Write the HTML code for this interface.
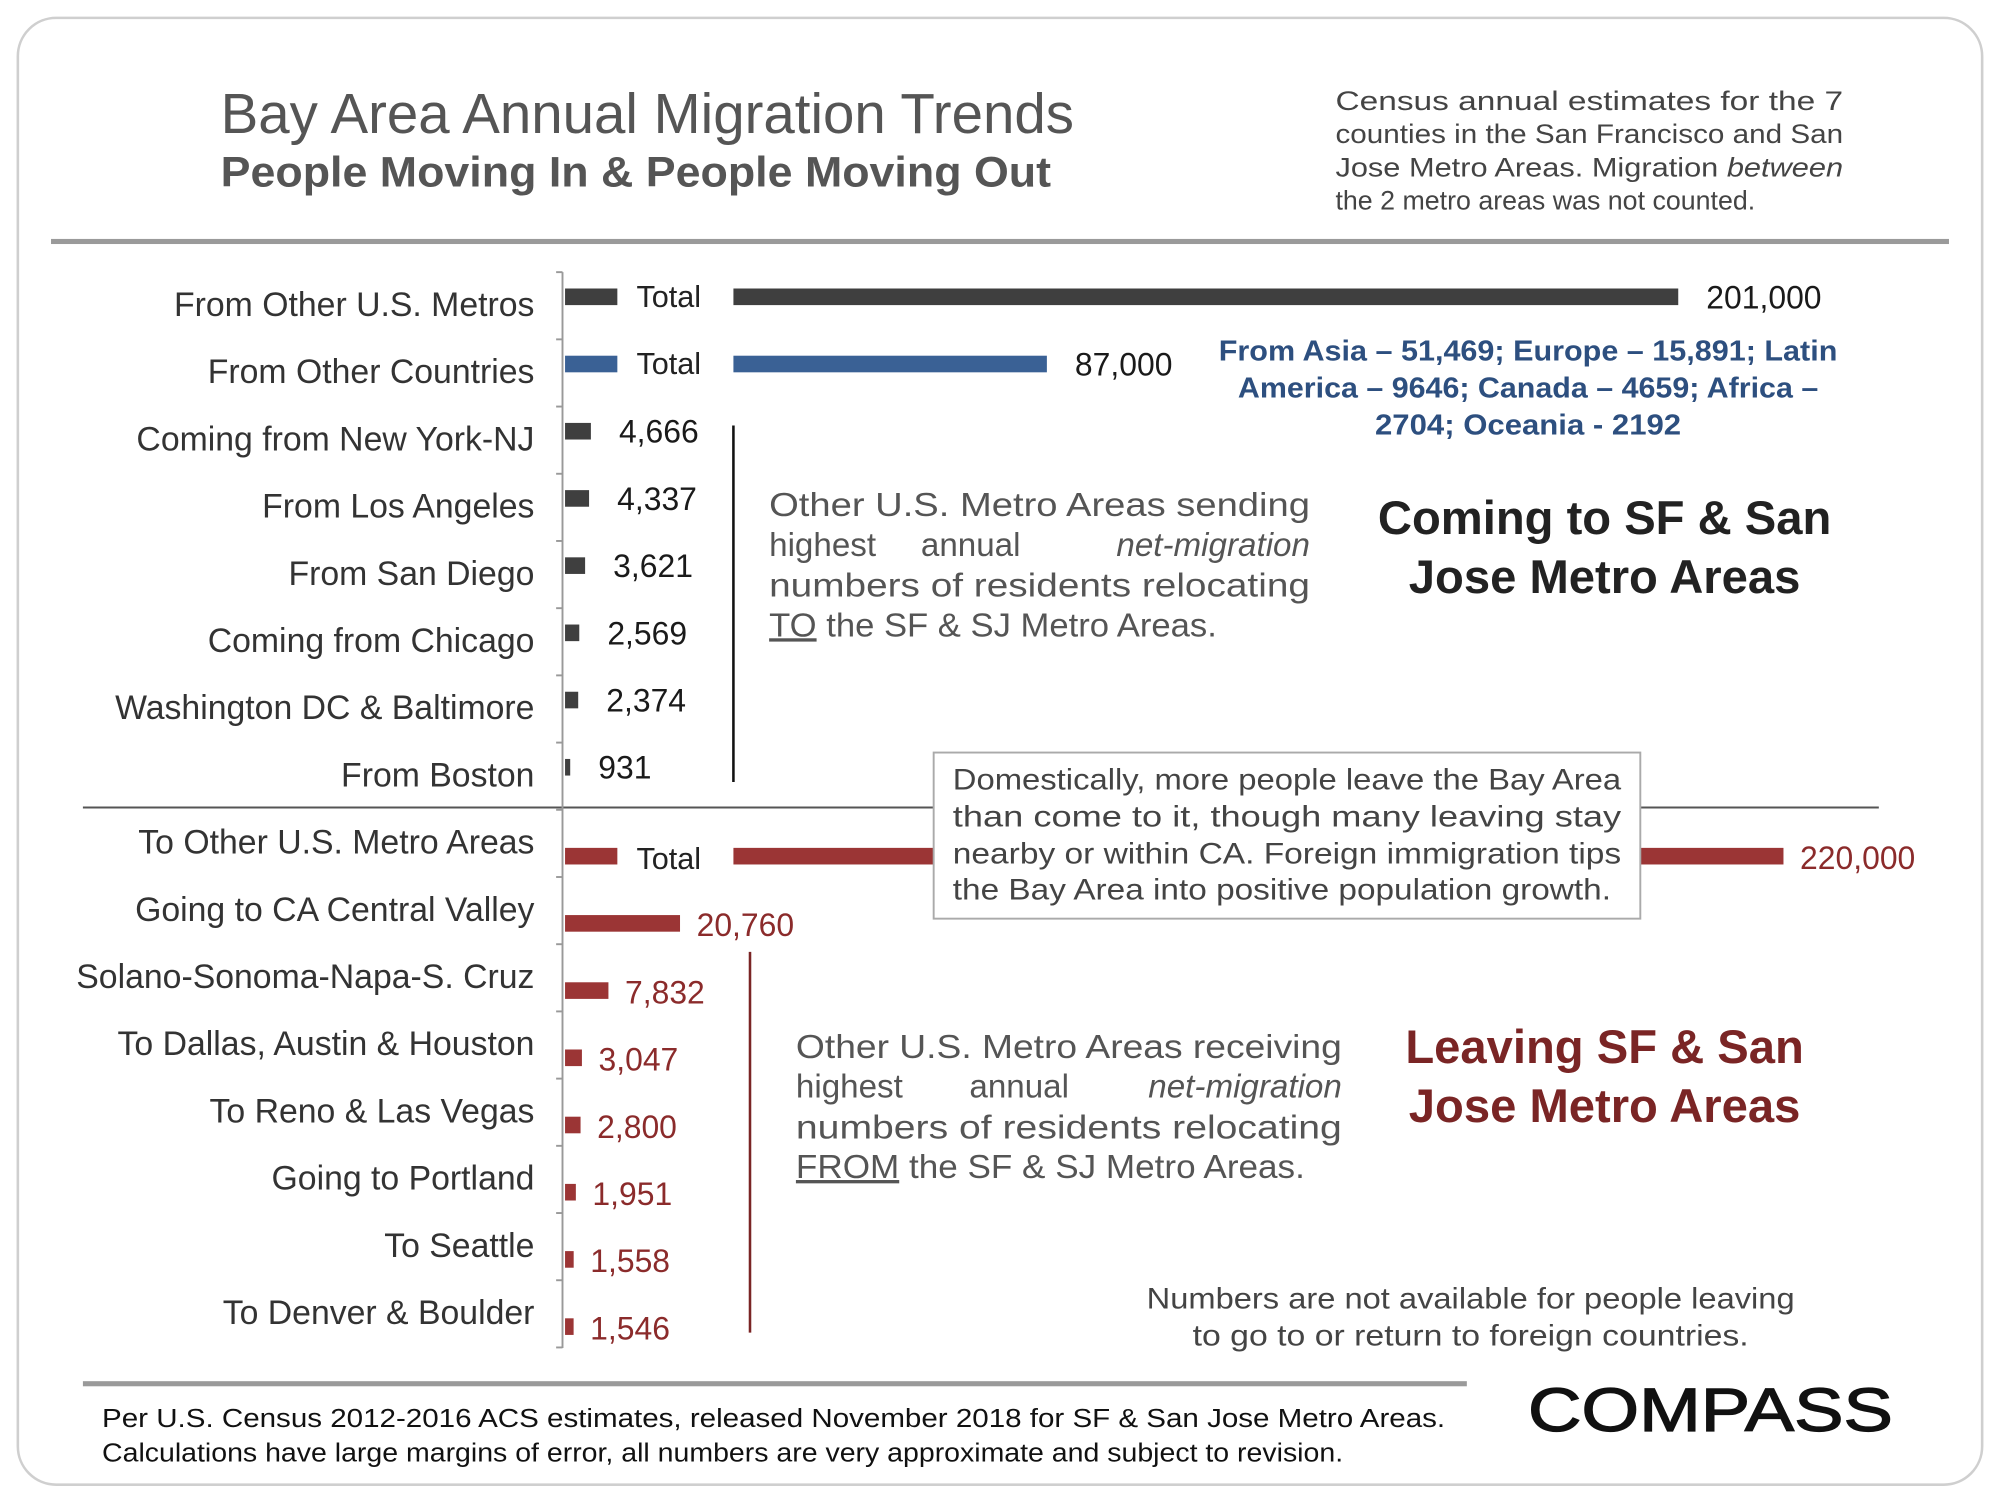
<!DOCTYPE html>
<html><head><meta charset="utf-8"><style>
html,body{margin:0;padding:0;background:#fff;}
svg{display:block;font-family:"Liberation Sans",sans-serif;}
</style></head><body>
<svg id="chart" width="2000" height="1500" viewBox="0 0 1568 1174" preserveAspectRatio="none" xmlns="http://www.w3.org/2000/svg">
<rect x="14" y="14" width="1540" height="1148" rx="30" fill="#fff" stroke="#cfcfcf" stroke-width="2"/>
<text x="173" y="104" font-size="44" fill="#555" textLength="669" lengthAdjust="spacingAndGlyphs">Bay Area Annual Migration Trends</text>
<text x="173" y="146" font-size="33" font-weight="bold" fill="#555" textLength="651" lengthAdjust="spacingAndGlyphs">People Moving In &amp; People Moving Out</text>
<g font-size="21" fill="#444">
<text x="1047" y="86" textLength="398" lengthAdjust="spacingAndGlyphs">Census annual estimates for the 7</text>
<text x="1047" y="112" textLength="398" lengthAdjust="spacingAndGlyphs">counties in the San Francisco and San</text>
<text x="1047" y="138" textLength="398" lengthAdjust="spacingAndGlyphs">Jose Metro Areas. Migration <tspan font-style="italic">between</tspan></text>
<text x="1047" y="164">the 2 metro areas was not counted.</text>
</g>
<rect x="40" y="187" width="1488" height="4" fill="#9a9a9a"/>
<line x1="65" y1="632" x2="1473" y2="632" stroke="#555" stroke-width="1.5"/>
<line x1="441" y1="213" x2="441" y2="1055" stroke="#999" stroke-width="1.5"/>
<g id="ticks"></g>
<g id="labels" font-size="26.5" fill="#333" text-anchor="end"></g>
<g id="bars"></g>
<g id="values" font-size="25"></g>
<line x1="575" y1="333" x2="575" y2="612" stroke="#111" stroke-width="2"/>
<line x1="588" y1="745" x2="588" y2="1043" stroke="#7a2525" stroke-width="2"/>
<g font-size="26" fill="#555">
<text x="603" y="404" textLength="424" lengthAdjust="spacingAndGlyphs">Other U.S. Metro Areas sending</text>
<text x="603" y="435">highest</text>
<text x="722" y="435">annual</text>
<text x="1027" y="435" text-anchor="end" font-style="italic">net-migration</text>
<text x="603" y="467" textLength="424" lengthAdjust="spacingAndGlyphs">numbers of residents relocating</text>
<text x="603" y="498" textLength="351" lengthAdjust="spacingAndGlyphs"><tspan text-decoration="underline">TO</tspan> the SF &amp; SJ Metro Areas.</text>
</g>
<g font-size="37" font-weight="bold" fill="#222" text-anchor="middle">
<text x="1258" y="418">Coming to SF &amp; San</text>
<text x="1258" y="464">Jose Metro Areas</text>
</g>
<g font-size="22.5" font-weight="bold" fill="#2d4f7f" text-anchor="middle">
<text x="1198" y="282" textLength="485" lengthAdjust="spacingAndGlyphs">From Asia – 51,469; Europe – 15,891; Latin</text>
<text x="1198" y="311" textLength="455" lengthAdjust="spacingAndGlyphs">America – 9646; Canada – 4659; Africa –</text>
<text x="1198" y="340" textLength="240" lengthAdjust="spacingAndGlyphs">2704; Oceania - 2192</text>
</g>
<rect x="732" y="589" width="554" height="130" fill="#fff" stroke="#aaa" stroke-width="1.5"/>
<g font-size="23" fill="#444">
<text x="747" y="618" textLength="524" lengthAdjust="spacingAndGlyphs">Domestically, more people leave the Bay Area</text>
<text x="747" y="647" textLength="524" lengthAdjust="spacingAndGlyphs">than come to it, though many leaving stay</text>
<text x="747" y="676" textLength="524" lengthAdjust="spacingAndGlyphs">nearby or within CA. Foreign immigration tips</text>
<text x="747" y="704" textLength="516" lengthAdjust="spacingAndGlyphs">the Bay Area into positive population growth.</text>
</g>
<g font-size="26" fill="#555">
<text x="624" y="828" textLength="428" lengthAdjust="spacingAndGlyphs">Other U.S. Metro Areas receiving</text>
<text x="624" y="859">highest</text>
<text x="760" y="859">annual</text>
<text x="1052" y="859" text-anchor="end" font-style="italic">net-migration</text>
<text x="624" y="891" textLength="428" lengthAdjust="spacingAndGlyphs">numbers of residents relocating</text>
<text x="624" y="922" textLength="399" lengthAdjust="spacingAndGlyphs"><tspan text-decoration="underline">FROM</tspan> the  SF &amp; SJ Metro Areas.</text>
</g>
<g font-size="37" font-weight="bold" fill="#7a2525" text-anchor="middle">
<text x="1258" y="832">Leaving SF &amp; San</text>
<text x="1258" y="878">Jose Metro Areas</text>
</g>
<g font-size="23" fill="#444" text-anchor="middle">
<text x="1153" y="1024" textLength="508" lengthAdjust="spacingAndGlyphs">Numbers are not available for people leaving</text>
<text x="1153" y="1053" textLength="436" lengthAdjust="spacingAndGlyphs">to go to or return to foreign countries.</text>
</g>
<rect x="65" y="1081" width="1085" height="4" fill="#9a9a9a"/>
<g font-size="20" fill="#111">
<text x="80" y="1117" textLength="1053" lengthAdjust="spacingAndGlyphs">Per U.S. Census 2012-2016 ACS estimates, released November 2018 for SF &amp; San Jose Metro Areas.</text>
<text x="80" y="1144" textLength="973" lengthAdjust="spacingAndGlyphs">Calculations have large margins of error, all numbers are very approximate and subject to revision.</text>
</g>
<text x="1198" y="1120" font-size="48" fill="#111" stroke="#111" stroke-width="1" textLength="286" lengthAdjust="spacingAndGlyphs">COMPASS</text>
<script>
const categories = ["From Other U.S. Metros","From Other Countries","Coming from New York-NJ","From Los Angeles","From San Diego","Coming from Chicago","Washington DC & Baltimore","From Boston","To Other U.S. Metro Areas","Going to CA Central Valley","Solano-Sonoma-Napa-S. Cruz","To Dallas, Austin & Houston","To Reno & Las Vegas","Going to Portland","To Seattle","To Denver & Boulder"];
const values = [201000,87000,4666,4337,3621,2569,2374,931,220000,20760,7832,3047,2800,1951,1558,1546];
const valueLabels = ["201,000","87,000","4,666","4,337","3,621","2,569","2,374","931","220,000","20,760","7,832","3,047","2,800","1,951","1,558","1,546"];
const isTotal = [true,true,false,false,false,false,false,false,true,false,false,false,false,false,false,false];
const groups = ["in-us","in-foreign","in","in","in","in","in","in","out","out","out","out","out","out","out","out"];

const NS = "http://www.w3.org/2000/svg";
const x0 = 443, pxPerUnit = 0.004342, rowTop = 213, rowH = 52.6;
function xScale(v){ return x0 + v * pxPerUnit; }
function rowCenter(i){ return rowTop + rowH * (i + 0.5); }
const colors = {"in-us":"#3f3f3f","in-foreign":"#3a6195","in":"#3f3f3f","out":"#9b3535"};
const ticksG = document.getElementById("ticks"), labelsG = document.getElementById("labels"), barsG = document.getElementById("bars"), valsG = document.getElementById("values");
for (let i = 0; i <= categories.length; i++) {
  const t = document.createElementNS(NS, "line");
  t.setAttribute("x1", 436); t.setAttribute("x2", 441);
  t.setAttribute("y1", rowTop + rowH * i); t.setAttribute("y2", rowTop + rowH * i);
  t.setAttribute("stroke", "#999"); t.setAttribute("stroke-width", 1.5);
  
  
  ticksG.appendChild(t);
}
categories.forEach((c, i) => {
  const out = groups[i] === "out";
  const cy = rowCenter(i);
  const lab = document.createElementNS(NS, "text");
  lab.setAttribute("x", 419); lab.setAttribute("y", cy + 8);
  lab.textContent = c;
  
  
  labelsG.appendChild(lab);
  const by = cy + (out ? 10 : -7);
  const bar = document.createElementNS(NS, "rect");
  bar.setAttribute("x", x0); bar.setAttribute("y", by - 6.5);
  bar.setAttribute("width", Math.max(2.5, xScale(values[i]) - x0)); bar.setAttribute("height", 13);
  bar.setAttribute("fill", colors[groups[i]]);
  
  
  barsG.appendChild(bar);
  if (isTotal[i]) {
    const gap = document.createElementNS(NS, "rect");
    gap.setAttribute("x", 484); gap.setAttribute("y", by - 8);
    gap.setAttribute("width", 91); gap.setAttribute("height", 16); gap.setAttribute("fill", "#fff");
    
    
    barsG.appendChild(gap);
    const tt = document.createElementNS(NS, "text");
    tt.setAttribute("x", 499); tt.setAttribute("y", by + (out ? 10 : 8));
    tt.setAttribute("font-size", 24); tt.setAttribute("fill", "#222");
    tt.textContent = "Total";
    
    
    barsG.appendChild(tt);
  }
  const v = document.createElementNS(NS, "text");
  v.setAttribute("x", xScale(values[i]) + (out ? 13 : 22));
  v.setAttribute("y", by + (out ? 10 : 9));
  v.setAttribute("fill", out ? "#8b2b2b" : "#1a1a1a");
  v.textContent = valueLabels[i];
  
  
  valsG.appendChild(v);
});
</script>
</svg>
</body></html>
